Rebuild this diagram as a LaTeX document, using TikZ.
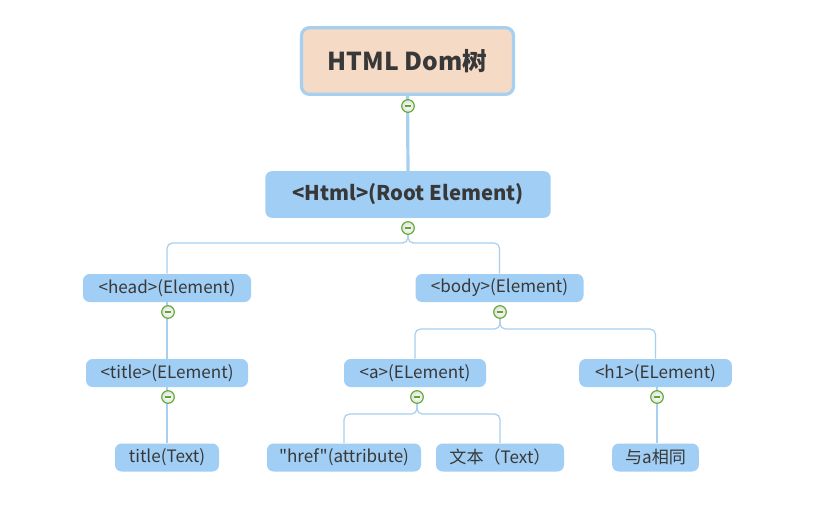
\documentclass[tikz,border=0pt]{standalone}
\usepackage{fontspec}
\newfontfamily\mainf{Noto Sans CJK SC}
\definecolor{boxblue}{HTML}{A1CEF4}
\definecolor{linkblue}{HTML}{A6CFF0}
\definecolor{peach}{HTML}{F5DAC5}
\definecolor{txt}{HTML}{383838}
\definecolor{cgreen}{HTML}{5AAA28}
\begin{document}
\begin{tikzpicture}[x=0.75pt,y=-0.75pt,
  box/.style={fill=boxblue, rounded corners=5pt, inner sep=0pt, text=txt, font=\mainf\fontsize{12.8pt}{15pt}\selectfont, minimum height=21pt},
  conn/.style={draw=linkblue, line width=0.9pt, rounded corners=4pt},
  coll/.style={circle, draw=cgreen, line width=0.8pt, inner color=white, outer color=gray!25, inner sep=0pt, minimum size=9.5pt,
    path picture={\draw[cgreen, line width=1pt] ([xshift=-2.6pt]path picture bounding box.center) -- ([xshift=2.6pt]path picture bounding box.center);}},
]
\fill[white] (0,0) rectangle (824,515);
\useasboundingbox (0,0) rectangle (824,515);
% nodes
\node[fill=peach, draw=linkblue, line width=2.4pt, rounded corners=6pt, minimum width=159pt, minimum height=50pt, inner sep=0pt, text=txt, font=\mainf\fontsize{18.5pt}{21pt}\selectfont\bfseries] (root) at (407.5,61) {HTML Dom树};
\node[box, minimum width=214pt, minimum height=35pt, font=\mainf\fontsize{15.2pt}{18pt}\selectfont\bfseries] (html) at (408,194.5) {<Html>(Root Element)};
\node[box, minimum width=126pt] (head) at (167,288) {<head>(Element)};
\node[box, minimum width=126pt] (body) at (499.5,288) {<body>(Element)};
\node[box, minimum width=121.5pt] (title) at (167,373) {<title>(ELement)};
\node[box, minimum width=106.5pt] (a) at (415,373) {<a>(ELement)};
\node[box, minimum width=114.5pt] (h1) at (655.5,373) {<h1>(ELement)};
\node[box, minimum width=78pt] (ttext) at (167,457.5) {title(Text)};
\node[box, minimum width=115.5pt] (href) at (344,457.5) {"href"(attribute)};
\node[box, minimum width=96pt] (wtext) at (500,457.5) {文本（Text）};
\node[box, minimum width=65pt] (same) at (655.5,457.5) {与a相同};
% connectors
\coordinate (k1) at (408,106);
\draw[draw=linkblue, line width=2.4pt] (root.south) -- (html.north);
\coordinate (k2) at (408,228);
\draw[conn] (k2) -- ++(0,15) -| (head.north);
\draw[conn] (k2) -- ++(0,15) -| (body.north);
\coordinate (k3) at (168,312);
\draw[conn] (head.south) -- (title.north);
\coordinate (k4) at (168,397);
\draw[conn] (title.south) -- (ttext.north);
\coordinate (k5) at (500,312);
\draw[conn] (k5) -- ++(0,17) -| (a.north);
\draw[conn] (k5) -- ++(0,17) -| (h1.north);
\coordinate (k6) at (417,397);
\draw[conn] (k6) -- ++(0,17) -| (href.north);
\draw[conn] (k6) -- ++(0,17) -| (wtext.north);
\coordinate (k7) at (657,397);
\draw[conn] (h1.south -| k7) -- (same.north -| k7);
% collapse markers
\node[coll] (m1) at (k1) {};
\node[coll] (m2) at (k2) {};
\node[coll] (m3) at (k3) {};
\node[coll] (m4) at (k4) {};
\node[coll] (m5) at (k5) {};
\node[coll] (m6) at (k6) {};
\node[coll] (m7) at (k7) {};
\end{tikzpicture}
\end{document}
